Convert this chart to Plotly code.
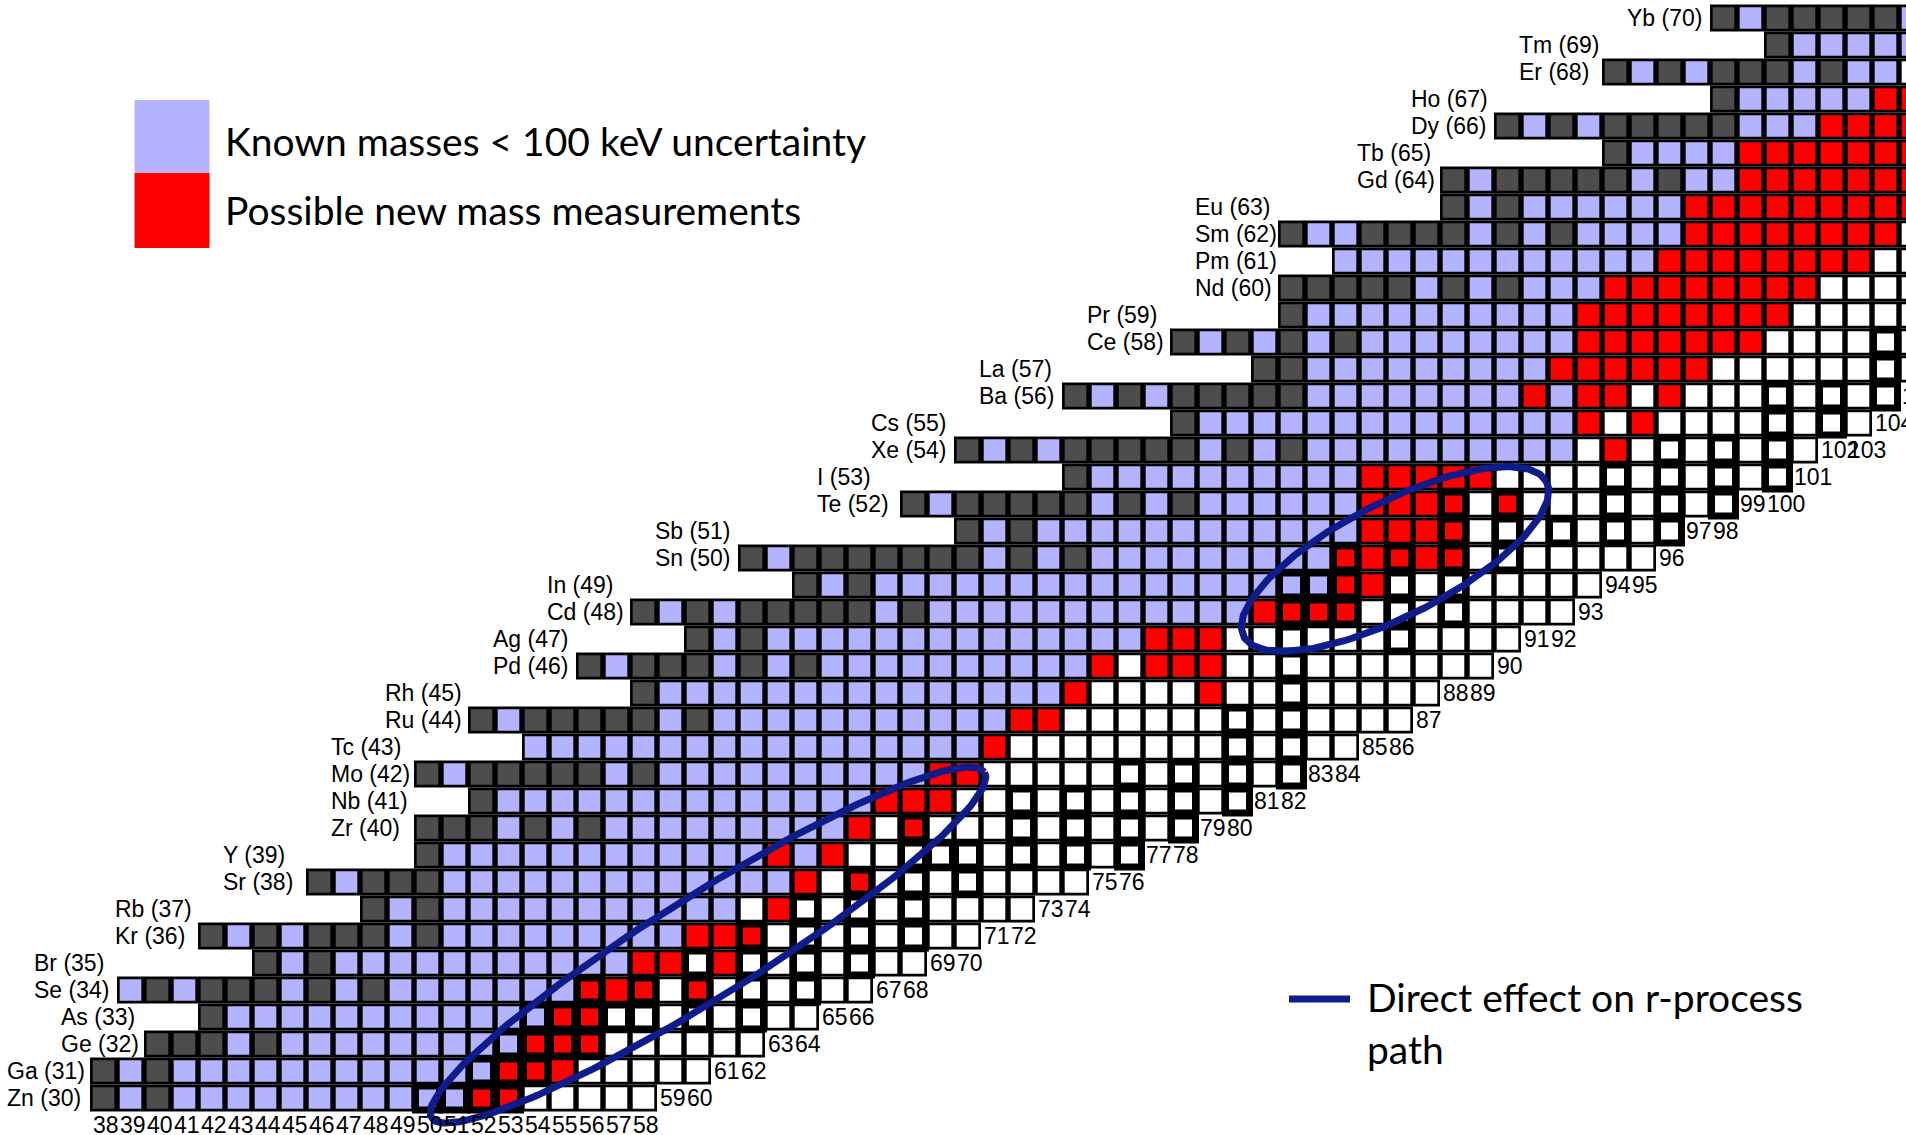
import math
import plotly.graph_objects as go

# ---------------- data ----------------
elements = ["Zn", "Ga", "Ge", "As", "Se", "Br", "Kr", "Rb", "Sr", "Y",
            "Zr", "Nb", "Mo", "Tc", "Ru", "Rh", "Pd", "Ag", "Cd", "In",
            "Sn", "Sb", "Te", "I", "Xe", "Cs", "Ba", "La", "Ce", "Pr",
            "Nd", "Pm", "Sm", "Eu", "Gd", "Tb", "Dy", "Ho", "Er", "Tm", "Yb"]
proton_numbers = list(range(30, 71))
row_first_n = [38, 38, 40, 42, 39, 44, 42, 48, 46, 50,
               50, 52, 50, 54, 52, 58, 56, 60, 58, 64,
               62, 70, 68, 74, 70, 78, 74, 81, 78, 82,
               82, 84, 82, 88, 88, 94, 90, 98, 94, 100, 98]
row_last_n = [58, 60, 62, 64, 66, 68, 70, 72, 74, 76,
              78, 80, 82, 84, 86, 87, 89, 90, 92, 93,
              95, 96, 98, 100, 101, 103, 104, 106, 106, 106,
              106, 106, 106, 106, 106, 106, 106, 106, 106, 106, 106]
# g = stable, b = known mass, r = possible new measurement, w = unknown
# upper case = nucleus on the r-process path (thick outline)
row_codes = [
    "gbg bbbbbbbbb BBRR wwwww",                      # Zn 30
    "gbg bbbbbbbbbbb BRRr wwwww",                    # Ga 31
    "gggbg bbbbbbbb BRRR ww wwww",                   # Ge 32
    "g bbbbbbbbbbb BRRWW wWwW ww",                   # As 33
    "bgbgggbgbg bbbbbbb RrRwR wWwWww",               # Se 34
    "gbg bbbbbbbbbbb rrWrWwWwWww",                   # Br 35
    "gbgbgggbg bbbbbbbbb rrRwWwWwWww",               # Kr 36
    "gbg bbbbbbbbbbb wrWwWwW wwww",                  # Rb 37
    "gbggg bbbbbbbbbbbbb rwRwWwW wwww",              # Sr 38
    "g bbbbbbbbbbbb rbrwwWWWwWwWwW",                 # Y 39
    "gggbgbg bbbbbbbbb rwRwwwWwWwWwW",               # Zr 40
    "g bbbbbbbbbbbbbb rrrwwWwWwWwWwW",               # Nb 41
    "gbgggggbg bbbbbbbbbb rr wwwww WwWwWwW",         # Mo 42
    "bbbbbbbbbbbbbbbbb r wwwwwwww WwWww",            # Tc 43
    "gbgggggbg bbbbbbbbbbb rr wwwwww WwW wwww",      # Ru 44
    "g bbbbbbbbbbbbbbb r wwww r ww W wwwww",         # Rh 45
    "gbgggbgbg bbbbbbbbbb rwrrr ww W wwwwwww",       # Pd 46
    "gbg bbbbbbbbbbbbbb rrr ww W www W wwww",        # Ag 47
    "gbgbgggggbg bbbbbbbbbbbb rRRR wWwW wwww",       # Cd 48
    "gbg bbbbbbbbbbbbbbb BBRrWwW wwwww",             # In 49
    "gb ggggggg bgbg bbbbbbbbb RrRrR wW wwwww",      # Sn 50
    "gbg bbbbbbbbbbbb rrrRwWwWwWwW",                 # Sb 51
    "gb ggggg bgbg bbbbbb rrrRwRwwwWwWwW",           # Te 52
    "g bbbbbbbbbb rrrrr wwww WwWwWwW",               # I 53
    "gbgb ggggg bgbg bbbbbbbbbb wrwWwWwWw",          # Xe 54
    "g bbbbbbbbbbbbbb rwr wwww WwWw",                # Cs 55
    "gbgb ggggg bbbbbbbb rbrrwr www WwWwW",          # Ba 56
    "gg bbbbbbbbb rrrrrr wwwwww W ww",               # La 57
    "gbgbgbg bbbbbbbb rrrrrrr wwww W ww",            # Ce 58
    "g bbbbbbbbbb rrrrrrrr wwwwww",                  # Pr 59
    "ggggg bgbg bbb rrrrrrrr wwwww",                 # Nd 60
    "bbbbbbbbbbbb rrrrrrrr www",                     # Pm 61
    "gbb gggg bgbg bbbb rrrrrrrr ww",                # Sm 62
    "gbg bbbbbb rrrrrrrrrr",                         # Eu 63
    "gb ggggg bgbb rrrrrrrr",                        # Gd 64
    "g bbbb rrrrrrrr",                               # Tb 65
    "gbgb ggggg bbb rrrrr",                          # Dy 66
    "g bbbbb rrr",                                   # Ho 67
    "gbgbgggbgbb ww",                                # Er 68
    "g bbbbbb",                                      # Tm 69
    "gbgggggbg",                                     # Yb 70
]
legend_labels = ["Known masses &lt; 100 keV uncertainty", "Possible new mass measurements"]
path_legend_lines = ["Direct effect on r-process", "path"]

# ---------------- geometry ----------------
W, H = 1906, 1135
CELL = 27.0
X0_PX = 90.0      # left edge of the N = 38 column
Y30_PX = 1098.0   # centre of the Z = 30 row
x_lo = 37.5 - X0_PX / CELL
x_hi = x_lo + W / CELL
y_hi = 30 + Y30_PX / CELL
y_lo = y_hi - H / CELL


def px2x(px):
    return x_lo + px / CELL


def py2y(py):
    return y_hi - py / CELL


colour_of = {"g": "#4d4d4d", "b": "#b3b3ff", "r": "#ff0000", "w": "#ffffff"}
NAVY = "#0f1c8c"

nx, ny, nc = [], [], []
tx, ty, tc = [], [], []
rows = {}
for z, first, last, codes in zip(proton_numbers, row_first_n, row_last_n, row_codes):
    codes = codes.replace(" ", "")
    if len(codes) != last - first + 1:
        raise ValueError(f"Z={z}: {len(codes)} codes for N {first}-{last}")
    rows[z] = (first, last)
    for i, ch in enumerate(codes):
        n = first + i
        col = colour_of[ch.lower()]
        if ch.isupper():
            tx.append(n); ty.append(z); tc.append(col)
        else:
            nx.append(n); ny.append(z); nc.append(col)

fig = go.Figure()
fig.add_trace(go.Scatter(
    x=nx, y=ny, mode="markers", hoverinfo="skip", showlegend=False, cliponaxis=True,
    marker=dict(symbol="square", size=24.3, color=nc, line=dict(color="black", width=2.7))))
fig.add_trace(go.Scatter(
    x=tx, y=ty, mode="markers", hoverinfo="skip", showlegend=False, cliponaxis=True,
    marker=dict(symbol="square", size=24, color=tc, line=dict(color="black", width=7))))


def ellipse(cx, cy, a, b, theta_deg, npts=240):
    th = math.radians(theta_deg)
    xs, ys = [], []
    for k in range(npts + 1):
        t = 2 * math.pi * k / npts
        px = cx + a * math.cos(t) * math.cos(th) - b * math.sin(t) * math.sin(th)
        py = cy - (a * math.cos(t) * math.sin(th) + b * math.sin(t) * math.cos(th))
        xs.append(px2x(px)); ys.append(py2y(py))
    return xs, ys


for (cx, cy, a, b, th) in [(708, 945, 326, 51, 32.0), (1395, 559, 170, 57, 27.0)]:
    ex, ey = ellipse(cx, cy, a, b, th)
    fig.add_trace(go.Scatter(x=ex, y=ey, mode="lines", hoverinfo="skip", showlegend=False,
                             line=dict(color=NAVY, width=7)))

annotations = []
label_font = dict(family="Liberation Sans, Arial, sans-serif", size=23, color="black")

# element labels (pairs left-aligned at the even row's start)
for z, name in zip(proton_numbers, elements):
    ref = z if z % 2 == 0 else z - 1
    start_px = X0_PX + (rows[ref][0] - 38) * CELL
    annotations.append(dict(
        x=px2x(start_px - 84), y=z, xref="x", yref="y", text=f"{name} ({z})",
        xanchor="left", yanchor="middle", showarrow=False, borderpad=0, font=label_font))

# neutron-number labels just below the lowest nucleus of each column
for n in range(38, 107):
    zmin = min(z for z, (f, l) in rows.items() if f <= n <= l)
    annotations.append(dict(
        x=n - 0.5 + 1.5 / CELL, y=zmin - 1, xref="x", yref="y", text=str(n),
        xanchor="left", yanchor="middle", showarrow=False, borderpad=0, font=label_font))

legend_font = dict(family="Lato, Carlito, sans-serif", size=39, color="black")
for text, py in zip(legend_labels, [141, 210]):
    annotations.append(dict(x=224 / W, y=1 - py / H, xref="paper", yref="paper", text=text,
                            xanchor="left", yanchor="middle", showarrow=False, borderpad=0,
                            font=legend_font))
for text, py in zip(path_legend_lines, [997.5, 1049]):
    annotations.append(dict(x=1366 / W, y=1 - py / H, xref="paper", yref="paper", text=text,
                            xanchor="left", yanchor="middle", showarrow=False, borderpad=0,
                            font=legend_font))

shapes = [
    dict(type="rect", xref="paper", yref="paper", x0=134.5 / W, x1=209.5 / W,
         y0=1 - 173 / H, y1=1 - 100 / H, fillcolor=colour_of["b"], line=dict(width=0)),
    dict(type="rect", xref="paper", yref="paper", x0=134.5 / W, x1=209.5 / W,
         y0=1 - 248 / H, y1=1 - 173 / H, fillcolor=colour_of["r"], line=dict(width=0)),
    dict(type="line", xref="paper", yref="paper", x0=1289 / W, x1=1350 / W,
         y0=1 - 999 / H, y1=1 - 999 / H, line=dict(color=NAVY, width=7)),
]

fig.update_layout(
    width=W, height=H, autosize=False,
    margin=dict(l=0, r=0, t=0, b=0, pad=0),
    paper_bgcolor="white", plot_bgcolor="white",
    xaxis=dict(range=[x_lo, x_hi], visible=False, fixedrange=True),
    yaxis=dict(range=[y_lo, y_hi], visible=False, fixedrange=True),
    annotations=annotations, shapes=shapes, showlegend=False,
)
fig.write_html("out.html")
